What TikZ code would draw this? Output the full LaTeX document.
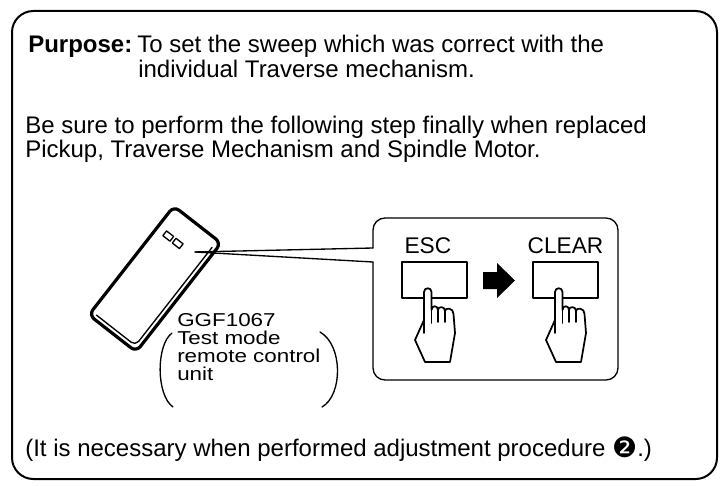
\documentclass[tikz,border=0pt]{standalone}
\usepackage{fontspec}
\setmainfont{Liberation Sans}
\newfontfamily\symfont{DejaVu Sans}
\newfontfamily\labelfont[FakeStretch=1.2]{Liberation Sans}
\usetikzlibrary{positioning}

\tikzset{
  bodytext/.style={font=\fontsize{18}{17.25}\selectfont, inner sep=0pt, anchor=base west},
  labeltext/.style={font=\labelfont\fontsize{14}{13.5}\selectfont, inner sep=0pt, anchor=base west},
  keycap/.style={draw, line width=1.6pt, minimum width=48.75pt, minimum height=27pt, inner sep=0pt},
  keyname/.style={font=\fontsize{17}{17}\selectfont, inner sep=0pt},
  pics/pointer/.style={code={
    \draw[line width=1.3pt, fill=white, line join=round]
      (-4,32) -- (-4,4) .. controls (-4,-1) and (3.5,-1) .. (3.5,4) -- (3.5,22)
      .. controls (3.5,17) and (10,17) .. (10,22)
      .. controls (10,18) and (17,18) .. (17,23)
      .. controls (17,19) and (26,20) .. (25.5,26)
      -- (27,45) -- (22,74) -- (-3,74) -- (-13,52) -- cycle;
    \draw[line width=1.3pt] (-4,32) -- (-4,45) (3.5,22) -- (3.5,35)
      (10,22) -- (10,34) (17,23) -- (17,34);
  }}
}

\begin{document}
\begin{tikzpicture}[line cap=round,line join=round,x=0.75pt,y=-0.75pt]
  \useasboundingbox (0,0) rectangle (727,485);
  % outer frame
  \draw[line width=1.5pt, rounded corners=16pt] (12,11) rectangle (717,479);

  \node[bodytext] (purpose) at (28,53) {\textbf{Purpose:}};
  \node[bodytext] (aim1) at (137,53) {To set the sweep which was correct with the};
  \node[bodytext] (aim2) at (138,77) {individual Traverse mechanism.};
  \node[bodytext] (note1) at (25,133) {Be sure to perform the following step finally when replaced};
  \node[bodytext] (note2) at (25,157) {Pickup, Traverse Mechanism and Spindle Motor.};
  \node[bodytext] (remark) at (25,456) {(It is necessary when performed adjustment procedure {\symfont\fontsize{21}{20}\selectfont\raisebox{-1pt}{❷}}.)};

  % remote control unit
  \begin{scope}[shift={(155,279)}, rotate=-38]
    \draw[line width=2.4pt, rounded corners=5pt] (-30,-69) rectangle (30,69);
    \draw[line width=1pt, rounded corners=4pt] (25.5,-60) -- (25.5,64.5) -- (-24,64.5);
    \draw[line width=1pt] (-20.5,-45) rectangle (-11.5,-39) (-8.5,-45) rectangle (0.5,-39);
    \coordinate (eye) at (15,-46);
  \end{scope}

  \node[labeltext] (model) at (177,326) {GGF1067};
  \node[labeltext] (lab1) at (177,344) {Test mode};
  \node[labeltext] (lab2) at (177,362) {remote control};
  \node[labeltext] (lab3) at (177,380) {unit};
  \draw[line width=1pt] (172,333) .. controls (156,345) and (156,395) .. (173,407);
  \draw[line width=1pt] (320,332) .. controls (343,345) and (343,395) .. (322,407);

  % key panel with leader
  \coordinate (pan-up) at (373,248);
  \coordinate (pan-lo) at (373,262);
  \draw[line width=1pt] (eye) -- (pan-up);
  \draw[line width=1pt] (eye) -- (pan-lo);
  \draw[line width=1pt, rounded corners=9pt] (pan-up) -- (373,218) -- (618,218) -- (618,380) -- (373,380) -- (pan-lo);

  \node[keycap] (esc) at (434.5,280) {};
  \node[keycap] (clear) at (565.5,280) {};
  \node[keyname, above=5pt of esc, xshift=-5pt] (esc-name) {ESC};
  \node[keyname, above=5pt of clear] (clear-name) {CLEAR};
  \fill (483,272) -- (497,272) -- (497,263) -- (515,280.5) -- (497,298) -- (497,289) -- (483,289) -- cycle;

  \pic at (428,288) {pointer};
  \pic at (559,288) {pointer};
\end{tikzpicture}
\end{document}
